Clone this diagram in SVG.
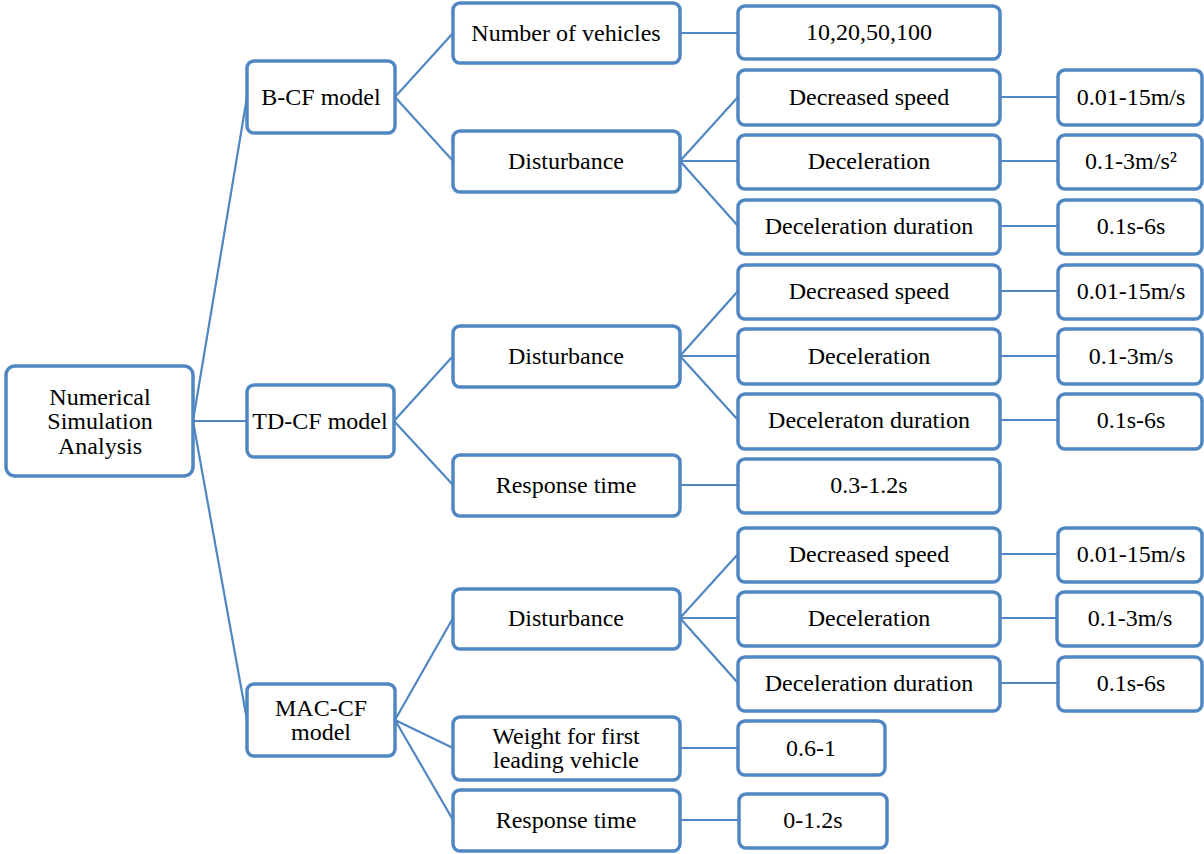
<svg xmlns="http://www.w3.org/2000/svg" width="1204" height="854" viewBox="0 0 1204 854">
<style>
.b{fill:#fff;stroke:#5086c1;stroke-width:3.5}
text{font-family:'Liberation Serif','Times New Roman','DejaVu Serif',serif;font-size:24px;fill:#000;text-anchor:middle;dominant-baseline:central}
.c{stroke:#5086c1;stroke-width:2.2;fill:none}
</style>
<rect width="1204" height="854" fill="#fff"/>
<g id="connectors">
<path class="c" d="M193 421L247 97M193 421L247 421M193 421L247 720"/>
<path class="c" d="M395 97L453 33M395 97L453 161"/>
<path class="c" d="M394 421L453 356M394 421L453 485"/>
<path class="c" d="M395 720L453 618M395 720L453 748M395 720L453 820"/>
<path class="c" d="M680 33H738M680 161L738 97M680 161H738M680 161L738 226"/>
<path class="c" d="M680 356L738 291M680 356H738M680 356L738 420M680 485H738"/>
<path class="c" d="M680 618L738 554M680 618H738M680 618L738 683M680 748H738M680 820H739"/>
<path class="c" d="M1000 97H1058M1000 161H1058M1000 226H1058M1000 291H1058M1000 356H1058M1000 420H1058M1000 554H1058M1000 618H1057M1000 683H1058"/>
</g>
<g id="root"><rect class="b" x="6" y="366" width="187" height="110" rx="9"/><text x="100" y="397">Numerical</text><text x="100" y="421">Simulation</text><text x="100" y="446">Analysis</text></g>
<g id="bcf"><rect class="b" x="247" y="61" width="148" height="72" rx="7"/><text x="321" y="97">B-CF model</text></g>
<g id="tdcf"><rect class="b" x="247" y="385" width="147" height="72" rx="7"/><text x="320" y="421">TD-CF model</text></g>
<g id="maccf"><rect class="b" x="247" y="684" width="148" height="72" rx="7"/><text x="321" y="708">MAC-CF</text><text x="321" y="732">model</text></g>

<g id="b-num"><rect class="b" x="453" y="3" width="227" height="60" rx="7"/><text x="566" y="33">Number of vehicles</text></g>
<g id="b-dist"><rect class="b" x="453" y="131" width="227" height="61" rx="7"/><text x="566" y="161">Disturbance</text></g>
<g id="b-num-v"><rect class="b" x="738" y="6" width="262" height="53" rx="7"/><text x="869" y="32">10,20,50,100</text></g>
<g id="b-ds"><rect class="b" x="738" y="70" width="262" height="55" rx="7"/><text x="869" y="97">Decreased speed</text></g>
<g id="b-dc"><rect class="b" x="738" y="135" width="262" height="54" rx="7"/><text x="869" y="161">Deceleration</text></g>
<g id="b-dd"><rect class="b" x="738" y="200" width="262" height="54" rx="7"/><text x="869" y="226">Deceleration duration</text></g>
<g id="b-ds-v"><rect class="b" x="1058" y="70" width="144" height="55" rx="7"/><text x="1131" y="97">0.01-15m/s</text></g>
<g id="b-dc-v"><rect class="b" x="1058" y="135" width="144" height="54" rx="7"/><text x="1131" y="161">0.1-3m/s²</text></g>
<g id="b-dd-v"><rect class="b" x="1058" y="200" width="144" height="54" rx="7"/><text x="1131" y="226">0.1s-6s</text></g>

<g id="t-dist"><rect class="b" x="453" y="326" width="227" height="61" rx="7"/><text x="566" y="356">Disturbance</text></g>
<g id="t-rt"><rect class="b" x="453" y="455" width="227" height="61" rx="7"/><text x="566" y="485">Response time</text></g>
<g id="t-ds"><rect class="b" x="738" y="265" width="262" height="54" rx="7"/><text x="869" y="291">Decreased speed</text></g>
<g id="t-dc"><rect class="b" x="738" y="329" width="262" height="55" rx="7"/><text x="869" y="356">Deceleration</text></g>
<g id="t-dd"><rect class="b" x="738" y="394" width="262" height="55" rx="7"/><text x="869" y="420">Deceleraton duration</text></g>
<g id="t-rt-v"><rect class="b" x="738" y="459" width="262" height="54" rx="7"/><text x="869" y="485">0.3-1.2s</text></g>
<g id="t-ds-v"><rect class="b" x="1058" y="265" width="144" height="54" rx="7"/><text x="1131" y="291">0.01-15m/s</text></g>
<g id="t-dc-v"><rect class="b" x="1058" y="329" width="144" height="55" rx="7"/><text x="1131" y="356">0.1-3m/s</text></g>
<g id="t-dd-v"><rect class="b" x="1058" y="394" width="144" height="55" rx="7"/><text x="1131" y="420">0.1s-6s</text></g>

<g id="m-dist"><rect class="b" x="453" y="589" width="227" height="60" rx="7"/><text x="566" y="618">Disturbance</text></g>
<g id="m-w"><rect class="b" x="453" y="717" width="227" height="63" rx="7"/><text x="566" y="736">Weight for first</text><text x="566" y="760">leading vehicle</text></g>
<g id="m-rt"><rect class="b" x="453" y="790" width="227" height="61" rx="7"/><text x="566" y="820">Response time</text></g>
<g id="m-ds"><rect class="b" x="738" y="528" width="262" height="54" rx="7"/><text x="869" y="554">Decreased speed</text></g>
<g id="m-dc"><rect class="b" x="738" y="592" width="262" height="54" rx="7"/><text x="869" y="618">Deceleration</text></g>
<g id="m-dd"><rect class="b" x="738" y="657" width="262" height="54" rx="7"/><text x="869" y="683">Deceleration duration</text></g>
<g id="m-ds-v"><rect class="b" x="1058" y="528" width="144" height="54" rx="7"/><text x="1131" y="554">0.01-15m/s</text></g>
<g id="m-dc-v"><rect class="b" x="1057" y="592" width="145" height="54" rx="7"/><text x="1130" y="618">0.1-3m/s</text></g>
<g id="m-dd-v"><rect class="b" x="1058" y="657" width="144" height="54" rx="7"/><text x="1131" y="683">0.1s-6s</text></g>
<g id="m-w-v"><rect class="b" x="738" y="721" width="147" height="54" rx="7"/><text x="811" y="748">0.6-1</text></g>
<g id="m-rt-v"><rect class="b" x="739" y="794" width="148" height="54" rx="7"/><text x="813" y="820">0-1.2s</text></g>
</svg>
